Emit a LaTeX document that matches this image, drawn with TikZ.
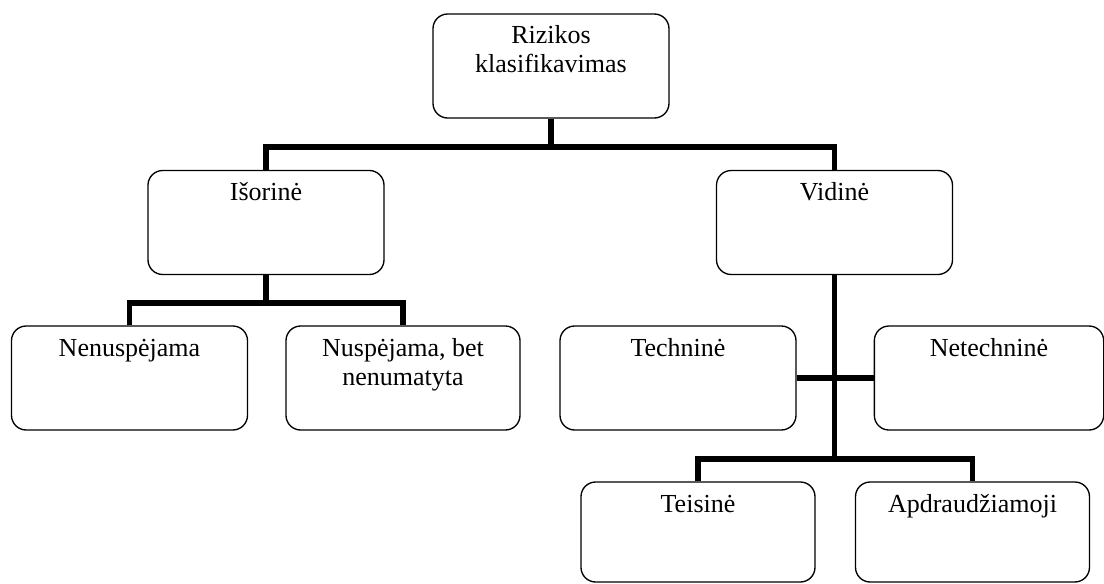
\documentclass[tikz,border=0pt]{standalone}
\usepackage{fontspec}
\setmainfont{Liberation Serif}
\begin{document}
\begin{tikzpicture}[x=0.75pt,y=-0.75pt,
  box/.style={draw=black, line width=1pt, rounded corners=11pt,
    minimum width=177pt, minimum height=78pt, inner sep=0pt},
  lbl/.style={anchor=base, inner sep=0pt, align=center,
    font=\fontsize{19.5}{21.75}\selectfont},
  conn/.style={draw=black, line width=3.8pt}]
\useasboundingbox (0,0) rectangle (1104,583);

% boxes
\node[box] (top)  at (551,66)    {};
\node[box] (iso)  at (266,222.5) {};
\node[box] (vid)  at (834.5,222.5) {};
\node[box] (nen)  at (129.5,378) {};
\node[box, minimum width=175.5pt] (nus) at (403,378) {};
\node[box] (tech) at (678,378)   {};
\node[box, minimum width=172pt] (net) at (989,378) {};
\node[box, minimum width=175.5pt, minimum height=75pt] (teis) at (698,532) {};
\node[box, minimum width=175.5pt, minimum height=75pt] (apd)  at (972.5,532) {};

% labels (base = last line, so two-line labels sit one line lower)
\node[lbl] (ttop)  at ([yshift=-44.5pt]top.north)  {Rizikos\\klasifikavimas};
\node[lbl] (tiso)  at ([yshift=-23pt]iso.north)  {Išorinė};
\node[lbl] (tvid)  at ([yshift=-23pt]vid.north)  {Vidinė};
\node[lbl] (tnen)  at ([yshift=-23pt]nen.north)  {Nenuspėjama};
\node[lbl] (tnus)  at ([yshift=-45pt]nus.north)  {Nuspėjama, bet\\nenumatyta};
\node[lbl] (ttech) at ([yshift=-23pt]tech.north) {Techninė};
\node[lbl] (tnet)  at ([yshift=-23pt]net.north)  {Netechninė};
\node[lbl] (tteis) at ([yshift=-23pt]teis.north) {Teisinė};
\node[lbl] (tapd)  at ([yshift=-23pt]apd.north)  {Apdraudžiamoji};

% connectors
\coordinate (j1) at (551,147);
\coordinate (j2) at (266,303);
\coordinate (j3) at (834.5,459);
\draw[conn] (top.south) -- (j1);
\draw[conn] (iso.north) |- (j1) -| (vid.north);
\draw[conn] (iso.south) -- (j2);
\draw[conn] (nen.north) |- (j2) -| (nus.north);
\draw[conn] (vid.south) -- (j3);
\draw[conn] (tech.east) -- (net.west);
\draw[conn] (teis.north) |- (j3) -| (apd.north);
\end{tikzpicture}
\end{document}
